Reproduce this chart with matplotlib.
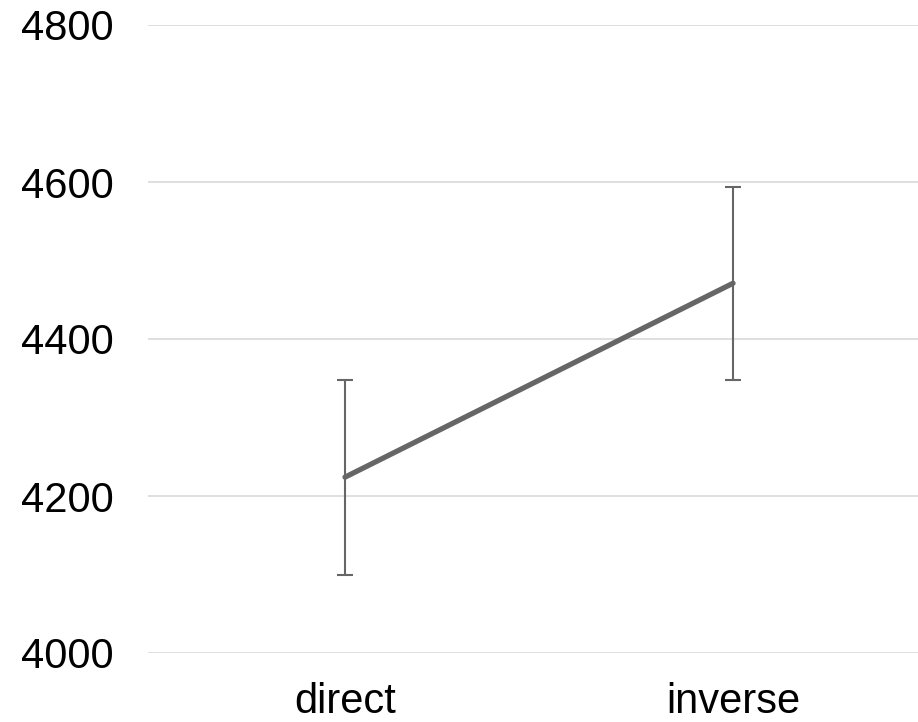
import matplotlib
matplotlib.use("Agg")
import matplotlib.pyplot as plt

plt.rcParams['font.family'] = ['Liberation Sans', 'DejaVu Sans']

conditions = ["direct", "inverse"]
means = [4224, 4471]
errors = [124, 123]
y_ticks = [4000, 4200, 4400, 4600, 4800]

fig = plt.figure(figsize=(9.18, 7.22), dpi=100)
ax = fig.add_axes([148 / 918, 1 - 653 / 722, 770 / 918, (653 - 25) / 722])

x = list(range(len(conditions)))
ax.errorbar(x, means, yerr=errors, fmt='none', ecolor='#666666',
            elinewidth=1.5, capsize=6, capthick=1.5, zorder=3)
ax.plot(x, means, color='#666666', linewidth=3.8, solid_capstyle='round', zorder=4)

ax.set_ylim(4000, 4800)
ax.set_xlim(-0.5077, 1.4767)
ax.set_yticks(y_ticks)
ax.set_yticklabels([str(v) for v in y_ticks])
ax.set_xticks(x)
ax.set_xticklabels(conditions)

ax.grid(axis='y', color='#d9d9d9', linewidth=1.2)
ax.set_axisbelow(True)
for s in ax.spines.values():
    s.set_visible(False)
ax.tick_params(axis='both', length=0, labelsize=30, colors='black')
ax.tick_params(axis='y', pad=25)
ax.tick_params(axis='x', pad=21)

fig.savefig("out.png", dpi=100)
